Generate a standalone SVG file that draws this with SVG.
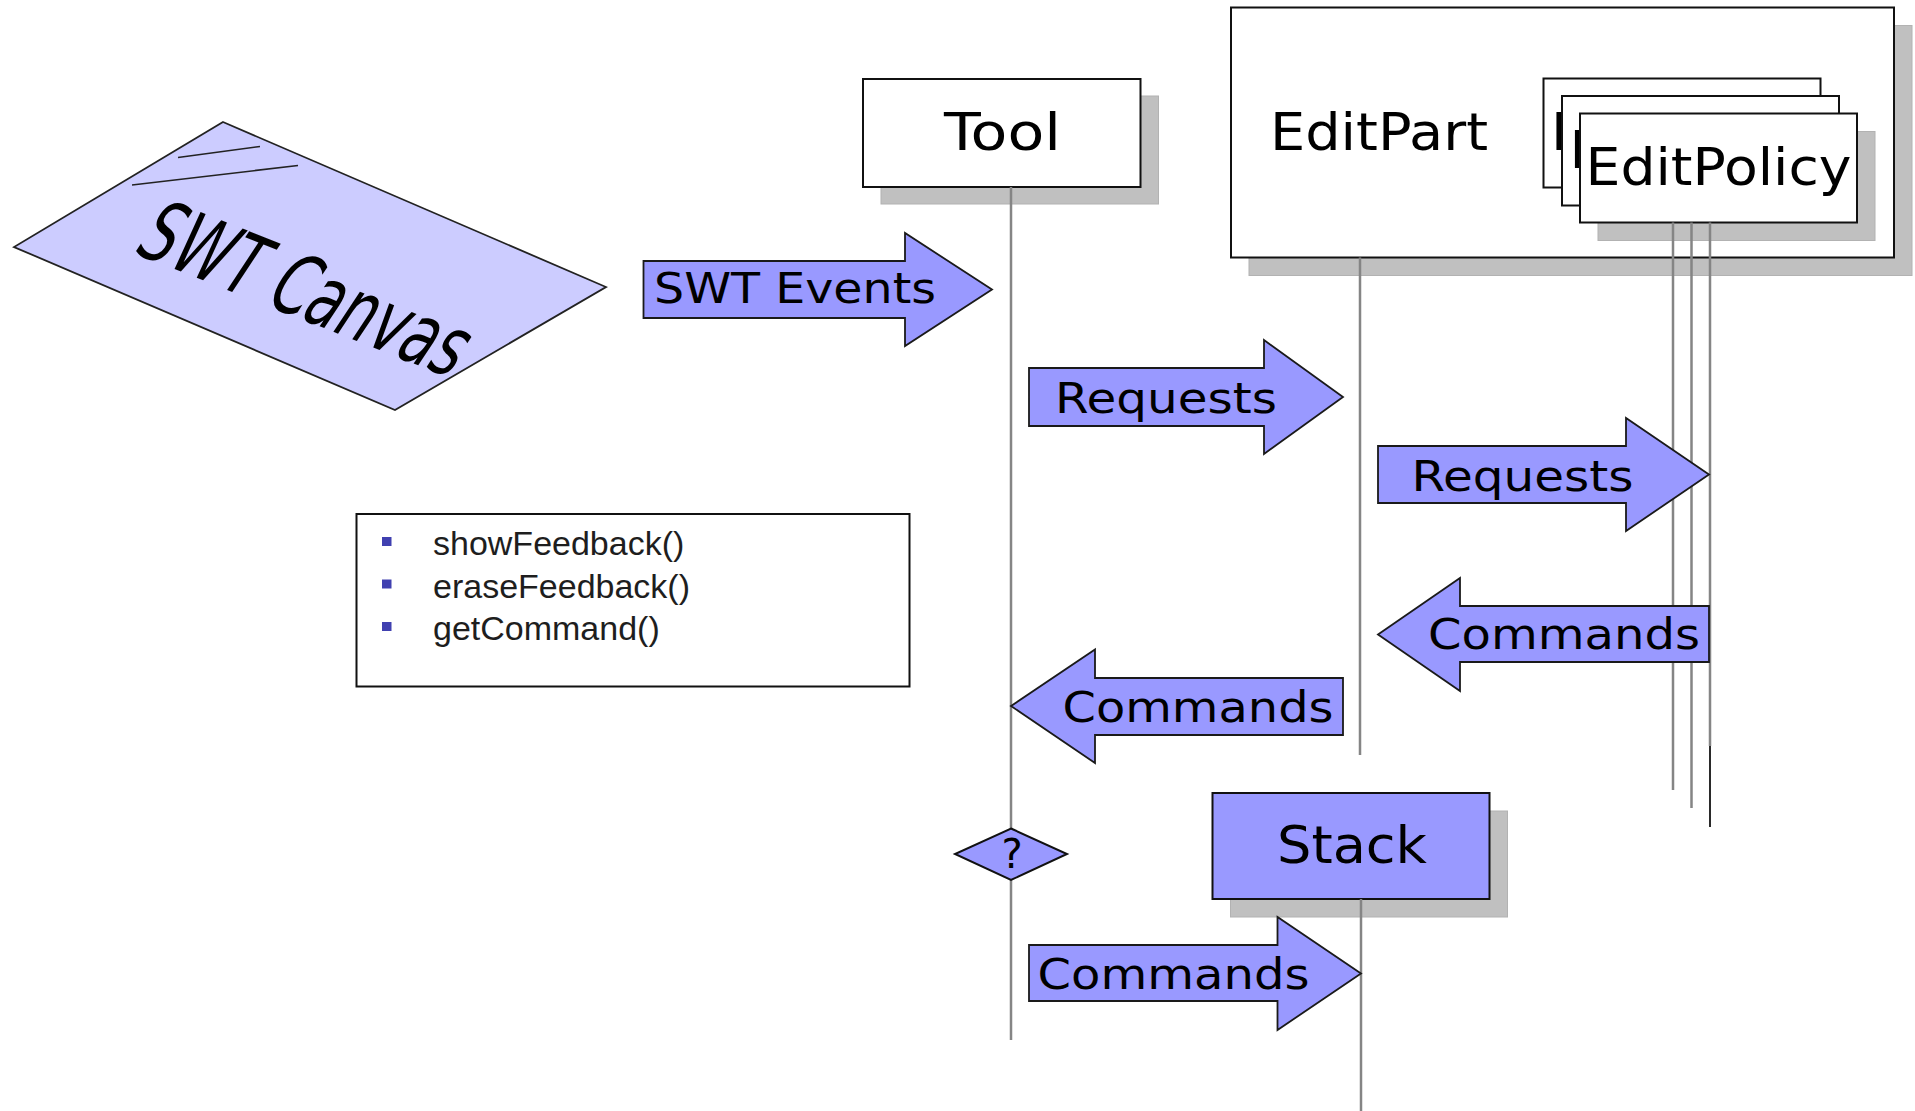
<svg xmlns="http://www.w3.org/2000/svg" width="1915" height="1111" viewBox="0 0 1915 1111">
  <style>
    .bg { fill: #ffffff; }
    .box { fill: #ffffff; stroke: #111111; stroke-width: 2; }
    .blue { fill: #9999ff; stroke: #111111; stroke-width: 2; }
    .shadow { fill: #c0c0c0; stroke: #b2b2b2; stroke-width: 1; }
    .arrow { fill: #9999ff; stroke: #1a1a1a; stroke-width: 1.8; stroke-linejoin: miter; }
    .life { stroke: #858585; stroke-width: 2.5; fill: none; }
    .life-dark { stroke: #2a2a2a; stroke-width: 2; fill: none; }
    .title { font-family: "DejaVu Sans", "Liberation Sans", sans-serif; font-size: 52px; fill: #000000; }
    .label { font-family: "DejaVu Sans", "Liberation Sans", sans-serif; font-size: 43px; fill: #000000; }
    .method { font-family: "Liberation Sans", Arial, sans-serif; font-size: 34px; fill: #1e1e1e; }
    .bullet { fill: #4040b0; }
  </style>

  <rect class="bg" x="0" y="0" width="1915" height="1111"/>

  <!-- Canvas surface drawn as a tilted sheet -->
  <g id="swt-canvas">
    <polygon points="223,122 606,287 395,410 14,247" fill="#ccccff" stroke="#222222" stroke-width="1.8"/>
    <line x1="178" y1="157.5" x2="260" y2="146.5" stroke="#222222" stroke-width="1.6"/>
    <line x1="132" y1="185" x2="298" y2="165.5" stroke="#222222" stroke-width="1.6"/>
    <text transform="translate(131,252) rotate(21.5) skewX(-12) scale(0.64,1)" font-family="'DejaVu Sans', 'Liberation Sans', sans-serif" font-size="86" fill="#000000">SWT Canvas</text>
  </g>

  <!-- Tool -->
  <g id="tool">
    <rect class="shadow" x="881" y="96" width="277.5" height="108"/>
    <rect class="box" x="863" y="79" width="277.5" height="108"/>
    <text class="title" x="1002.5" y="150" text-anchor="middle" textLength="117" lengthAdjust="spacingAndGlyphs">Tool</text>
  </g>

  <!-- EditPart with its stacked EditPolicies -->
  <g id="editpart">
    <rect class="shadow" x="1249" y="25.5" width="663" height="250"/>
    <rect class="box" x="1231" y="7.5" width="663" height="250"/>
    <text class="title" x="1270" y="150" textLength="218" lengthAdjust="spacingAndGlyphs">EditPart</text>
  </g>

  <g id="editpolicy">
    <rect class="box" x="1543.5" y="78.5" width="277" height="109"/>
    <text class="title" x="1551" y="150" textLength="266" lengthAdjust="spacingAndGlyphs">EditPolicy</text>
    <rect class="box" x="1562" y="96" width="277" height="109.5"/>
    <text class="title" x="1569.5" y="167.5" textLength="266" lengthAdjust="spacingAndGlyphs">EditPolicy</text>
    <rect class="shadow" x="1598" y="131.5" width="277" height="109"/>
    <rect class="box" x="1580" y="113.5" width="277" height="109"/>
    <text class="title" x="1585.5" y="185" textLength="266" lengthAdjust="spacingAndGlyphs">EditPolicy</text>
  </g>

  <!-- Command stack -->
  <g id="stack">
    <rect class="shadow" x="1230.5" y="811" width="277" height="106"/>
    <rect class="blue" x="1212.5" y="793" width="277" height="106"/>
    <text class="title" x="1352" y="863" text-anchor="middle" textLength="150" lengthAdjust="spacingAndGlyphs">Stack</text>
  </g>

  <!-- Methods a tool relies on -->
  <g id="feedback-methods">
    <rect class="box" x="356.5" y="514" width="553" height="172.5"/>
    <rect class="bullet" x="382" y="537" width="9.5" height="9"/>
    <rect class="bullet" x="382" y="579.5" width="9.5" height="9"/>
    <rect class="bullet" x="382" y="622" width="9.5" height="9"/>
    <text class="method" x="433" y="555">showFeedback()</text>
    <text class="method" x="433" y="597.5">eraseFeedback()</text>
    <text class="method" x="433" y="639.5">getCommand()</text>
  </g>

  <!-- Lifelines and message arrows -->
  <g id="connectors">
    <line class="life" x1="1011" y1="187" x2="1011" y2="1040"/>
    <line class="life" x1="1360" y1="257.5" x2="1360" y2="755"/>
    <line class="life" x1="1361" y1="899" x2="1361" y2="1111"/>
    <line class="life" x1="1673" y1="222.5" x2="1673" y2="790"/>
    <line class="life" x1="1691.5" y1="222.5" x2="1691.5" y2="808"/>
    <line class="life" x1="1710" y1="222.5" x2="1710" y2="746"/>
    <line class="life-dark" x1="1710" y1="746" x2="1710" y2="827"/>

    <polygon class="arrow" points="643.5,261 905,261 905,233 992,289.5 905,346 905,318 643.5,318"/>
    <text class="label" x="654" y="303" textLength="282" lengthAdjust="spacingAndGlyphs">SWT Events</text>

    <polygon class="arrow" points="1029,368 1264,368 1264,340 1343,397 1264,454 1264,426 1029,426"/>
    <text class="label" x="1055" y="413" textLength="222" lengthAdjust="spacingAndGlyphs">Requests</text>

    <polygon class="arrow" points="1378,446 1626,446 1626,418 1709,474.5 1626,531 1626,503 1378,503"/>
    <text class="label" x="1411.5" y="490.5" textLength="222" lengthAdjust="spacingAndGlyphs">Requests</text>

    <polygon class="arrow" points="1709,606 1460,606 1460,578 1378,634.5 1460,691 1460,662 1709,662"/>
    <text class="label" x="1428" y="648.5" textLength="272" lengthAdjust="spacingAndGlyphs">Commands</text>

    <polygon class="arrow" points="1343,678 1095,678 1095,649.5 1011,706 1095,763 1095,735 1343,735"/>
    <text class="label" x="1062.5" y="721.5" textLength="271" lengthAdjust="spacingAndGlyphs">Commands</text>

    <polygon class="arrow" points="1029,945 1277.5,945 1277.5,917 1361,973.5 1277.5,1030 1277.5,1001 1029,1001"/>
    <text class="label" x="1037.5" y="989" textLength="272" lengthAdjust="spacingAndGlyphs">Commands</text>
  </g>

  <!-- Decision on the tool lifeline -->
  <g id="decision">
    <polygon class="blue" points="1011,828.5 1067,854 1011,880 955,854" stroke-width="1.8"/>
    <text x="1012" y="868" text-anchor="middle" font-family="'DejaVu Sans', sans-serif" font-size="40" fill="#000000">?</text>
  </g>
</svg>
